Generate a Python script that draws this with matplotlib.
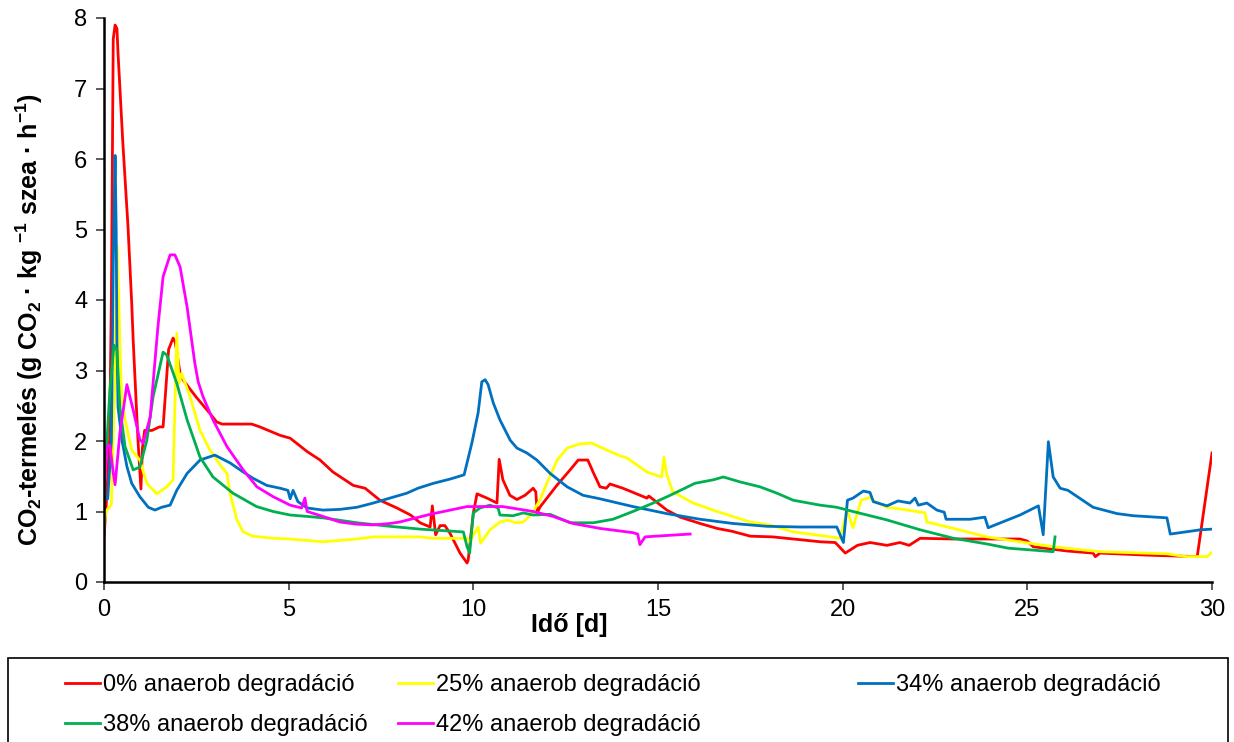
import matplotlib
matplotlib.use("Agg")
import matplotlib.pyplot as plt
from matplotlib.patches import Rectangle

plt.rcParams['font.family'] = ['Liberation Sans', 'DejaVu Sans']
plt.rcParams['mathtext.fontset'] = 'custom'
plt.rcParams['mathtext.bf'] = 'Liberation Sans:bold'
plt.rcParams['mathtext.rm'] = 'Liberation Sans'

# CO2-termelés görbék (idő [d], g CO2 / kg szea / h)
t_0 = [0, 0.05, 0.1, 0.15, 0.2, 0.25, 0.3, 0.35, 0.38, 0.51, 0.65, 0.75, 0.79, 0.92, 1.0,
       1.04, 1.1, 1.3, 1.5, 1.6, 1.75, 1.87, 1.93, 2.06, 2.15, 2.5, 2.87, 3.05, 3.2, 3.68,
       4.0, 4.22, 4.77, 5.04, 5.5, 5.85, 6.2, 6.75, 7.07, 7.47, 7.93, 8.3, 8.56, 8.83, 8.89,
       8.98, 9.1, 9.23, 9.37, 9.64, 9.83, 9.86, 10.0, 10.1, 10.37, 10.64, 10.7, 10.8, 10.99,
       11.18, 11.4, 11.62, 11.69, 11.73, 11.8, 12.26, 12.62, 12.84, 13.1, 13.25, 13.43, 13.6,
       13.7, 14.05, 14.7, 14.75, 15.24, 15.6, 16.14, 16.6, 17.0, 17.5, 18.1, 18.85, 19.4,
       19.8, 20.07, 20.4, 20.74, 21.2, 21.55, 21.8, 22.1, 23.0, 23.9, 24.8, 25.0, 25.16,
       26.07, 26.78, 26.84, 26.97, 28.3, 29.6, 30.0]
co2_0 = [0.65, 1.0, 1.5, 2.0, 4.0, 7.7, 7.9, 7.85, 7.5, 6.23, 5.04, 3.96, 3.43, 2.01, 1.32,
         1.9, 2.15, 2.15, 2.2, 2.2, 3.3, 3.46, 3.4, 2.96, 2.86, 2.62, 2.39, 2.27, 2.24, 2.24,
         2.24, 2.2, 2.08, 2.04, 1.85, 1.73, 1.56, 1.37, 1.33, 1.16, 1.05, 0.95, 0.84, 0.78, 1.08,
         0.67, 0.8, 0.8, 0.69, 0.41, 0.27, 0.31, 0.98, 1.25, 1.19, 1.12, 1.74, 1.45, 1.23,
         1.17, 1.23, 1.33, 1.28, 0.98, 1.06, 1.37, 1.59, 1.73, 1.73, 1.55, 1.35, 1.33,
         1.39, 1.33, 1.19, 1.22, 1.02, 0.92, 0.83, 0.76, 0.72, 0.65, 0.64, 0.6, 0.57,
         0.56, 0.41, 0.52, 0.56, 0.52, 0.56, 0.52, 0.62, 0.61, 0.61, 0.61, 0.58, 0.5,
         0.44, 0.41, 0.36, 0.41, 0.38, 0.36, 1.83]

t_25 = [0, 0.05, 0.2, 0.3, 0.35, 0.4, 0.45, 0.49, 0.57, 0.75, 0.97, 1.16, 1.43, 1.7, 1.87,
        1.97, 2.03, 2.1, 2.33, 2.6, 2.87, 3.19, 3.33, 3.41, 3.6, 3.77, 4.03, 4.58, 5.04, 5.93,
        6.85, 7.29, 8.56, 8.92, 9.83, 9.9, 10.13, 10.2, 10.45, 10.72, 10.94, 11.13, 11.35,
        11.59, 11.8, 12.03, 12.27, 12.54, 12.89, 13.2, 13.62, 13.97, 14.16, 14.7, 15.1, 15.16,
        15.24, 15.4, 15.95, 16.6, 17.5, 18.03, 18.66, 19.39, 19.93, 20.12, 20.28, 20.5,
        20.74, 20.88, 21.2, 21.64, 22.23, 22.28, 23.0, 23.9, 24.8, 25.7, 26.97, 28.78, 29.3,
        29.87, 30.0]
co2_25 = [0.75, 1.0, 1.1, 3.0, 4.78, 4.0, 3.0, 2.58, 2.3, 1.87, 1.73, 1.4, 1.25, 1.35, 1.45,
          3.53, 2.82, 2.96, 2.63, 2.15, 1.87, 1.63, 1.54, 1.26, 0.88, 0.71, 0.65, 0.62, 0.61, 0.57,
          0.61, 0.64, 0.64, 0.62, 0.62, 0.57, 0.78, 0.55, 0.74, 0.85, 0.88, 0.84, 0.85,
          0.97, 1.16, 1.45, 1.73, 1.9, 1.96, 1.97, 1.87, 1.79, 1.76, 1.56, 1.49, 1.77,
          1.52, 1.28, 1.12, 1.0, 0.85, 0.81, 0.71, 0.66, 0.62, 1.02, 0.77, 1.16,
          1.2, 1.14, 1.06, 1.03, 0.98, 0.85, 0.76, 0.64, 0.57, 0.5, 0.43, 0.4, 0.36,
          0.36, 0.42]

t_34 = [0, 0.1, 0.2, 0.25, 0.3, 0.33, 0.35, 0.38, 0.49, 0.62, 0.75, 0.97, 1.2, 1.38, 1.56,
        1.79, 1.97, 2.25, 2.6, 3.0, 3.41, 3.77, 4.04, 4.41, 4.77, 4.98, 5.04, 5.12, 5.25, 5.5,
        5.93, 6.39, 6.85, 7.29, 7.74, 8.2, 8.5, 8.92, 9.37, 9.75, 9.96, 10.13, 10.23, 10.32,
        10.4, 10.54, 10.72, 11.0, 11.18, 11.45, 11.72, 12.08, 12.54, 12.97, 13.43, 14.32,
        15.24, 16.14, 17.03, 17.95, 18.85, 19.84, 20.02, 20.13, 20.28, 20.56, 20.74, 20.83,
        21.2, 21.5, 21.82, 21.96, 22.05, 22.28, 22.55, 22.75, 22.8, 23.45, 23.85, 23.94,
        24.8, 25.3, 25.43, 25.57, 25.7, 25.89, 26.1, 26.78, 27.43, 27.87, 28.78, 28.87,
        29.68, 30.0]
co2_34 = [1.2, 1.18, 2.0, 4.5, 6.05, 5.0, 3.43, 2.48, 2.0, 1.64, 1.4, 1.21, 1.06, 1.02, 1.06,
          1.09, 1.3, 1.54, 1.73, 1.8, 1.69, 1.56, 1.47, 1.37, 1.33, 1.3, 1.18, 1.3, 1.14, 1.05,
          1.02, 1.03, 1.06, 1.12, 1.19, 1.26, 1.33, 1.4, 1.46, 1.52, 1.97, 2.4, 2.84, 2.87,
          2.8, 2.54, 2.3, 2.01, 1.9, 1.83, 1.73, 1.54, 1.35, 1.23, 1.18, 1.07,
          0.97, 0.89, 0.83, 0.79, 0.78, 0.78, 0.56, 1.16, 1.19, 1.29, 1.27, 1.14,
          1.08, 1.15, 1.12, 1.19, 1.09, 1.12, 1.02, 0.99, 0.89, 0.89, 0.92, 0.77,
          0.95, 1.08, 0.67, 1.99, 1.49, 1.33, 1.3, 1.06, 0.97, 0.94, 0.91, 0.68,
          0.74, 0.75]

t_38 = [0, 0.08, 0.16, 0.27, 0.35, 0.43, 0.57, 0.79, 0.97, 1.16, 1.33, 1.6, 1.7, 1.97, 2.25,
        2.6, 2.95, 3.49, 4.13, 4.58, 5.04, 5.5, 5.93, 6.85, 7.74, 8.56, 9.73, 9.83, 9.9, 10.0,
        10.18, 10.45, 10.67, 10.72, 11.08, 11.35, 11.62, 12.08, 12.62, 13.25, 13.78, 14.32,
        14.87, 15.33, 16.0, 16.5, 16.77, 17.22, 17.76, 18.22, 18.66, 19.39, 19.84, 20.28,
        21.2, 22.1, 23.0, 23.9, 24.48, 25.7, 25.75]
co2_38 = [1.25, 2.0, 2.72, 3.36, 3.29, 2.48, 1.92, 1.59, 1.63, 2.01, 2.63, 3.26, 3.22, 2.82, 2.3,
          1.77, 1.49, 1.26, 1.07, 1.0, 0.95, 0.93, 0.91, 0.84, 0.79, 0.75, 0.71, 0.5, 0.41, 0.98,
          1.05, 1.09, 1.05, 0.95, 0.94, 0.98, 0.95, 0.96, 0.84, 0.84, 0.89, 1.0,
          1.12, 1.23, 1.4, 1.45, 1.49, 1.42, 1.35, 1.26, 1.16, 1.09, 1.06, 1.0,
          0.88, 0.74, 0.62, 0.54, 0.48, 0.43, 0.64]

t_42 = [0, 0.08, 0.16, 0.25, 0.3, 0.43, 0.62, 0.79, 0.97, 1.06, 1.25, 1.46, 1.6, 1.79, 1.92,
        2.06, 2.25, 2.46, 2.55, 2.68, 2.95, 3.33, 3.77, 4.14, 4.58, 5.04, 5.35, 5.44, 5.5,
        5.93, 6.39, 6.85, 7.29, 7.74, 8.0, 8.83, 9.83, 10.8, 11.62, 12.16, 12.7, 13.43,
        14.32, 14.45, 14.51, 14.65, 15.24, 15.87]
co2_42 = [1.26, 1.92, 1.94, 1.55, 1.38, 2.11, 2.8, 2.44, 2.02, 1.97, 2.34, 3.62, 4.33, 4.64, 4.64,
          4.47, 3.9, 3.1, 2.84, 2.63, 2.3, 1.92, 1.59, 1.35, 1.21, 1.09, 1.05, 1.19, 1.0,
          0.93, 0.85, 0.82, 0.81, 0.83, 0.85, 0.96, 1.07, 1.07, 1.0, 0.93, 0.83, 0.76,
          0.7, 0.68, 0.53, 0.64, 0.66, 0.68]

labels = ['0% anaerob degradáció', '25% anaerob degradáció', '34% anaerob degradáció',
          '38% anaerob degradáció', '42% anaerob degradáció']
colors = ['#FF0000', '#FFFF00', '#0070C0', '#00B050', '#FF00FF']

fig = plt.figure(figsize=(12.34, 7.42), dpi=100)
ax = fig.add_axes([104 / 1234, 1 - 582 / 742, 1108 / 1234, 564 / 742])

series = [(t_0, co2_0), (t_25, co2_25), (t_34, co2_34), (t_38, co2_38), (t_42, co2_42)]
lines = []
for (t, v), c, lab in zip(series, colors, labels):
    ln, = ax.plot(t, v, color=c, lw=2, label=lab)
    lines.append(ln)

ax.set_xlim(0, 30)
ax.set_ylim(0, 8)
ax.set_xticks(range(0, 31, 5))
ax.set_yticks(range(0, 9))
for s in ['top', 'right']:
    ax.spines[s].set_visible(False)
for s in ['left', 'bottom']:
    ax.spines[s].set_linewidth(1.8)
ax.tick_params(axis='both', direction='out', length=6, width=1.2, color='#404040',
               labelsize=17, pad=6)

ax.set_xlabel('Idő [d]', fontsize=18, fontweight='bold')
ax.xaxis.set_label_coords(0.42, -0.055)
ax.set_ylabel(r'CO$_\mathbf{2}$-termelés (g CO$_\mathbf{2}$ · kg $^\mathbf{-1}$ szea · h$^\mathbf{-1}$)',
              fontsize=18, fontweight='bold')
ax.yaxis.set_label_coords(-0.053, 0.465)

# jelmagyarázat: három oszlop, közös keret
cols = [([lines[0], lines[3]], 65), ([lines[1], lines[4]], 398), ([lines[2]], 858)]
for hs, xpx in cols:
    fig.legend(handles=hs, labels=[h.get_label() for h in hs], loc='upper left',
               bbox_to_anchor=(xpx / 1234, 1 - 674 / 742), frameon=False, fontsize=17,
               handlelength=1.5, handletextpad=0.1, labelspacing=0.78,
               borderpad=0, borderaxespad=0)
fig.patches.append(Rectangle((8 / 1234, -0.01), 1220 / 1234, (742 - 658) / 742 + 0.01,
                             transform=fig.transFigure, fill=False, edgecolor='black', lw=1.2))

fig.savefig('out.png', dpi=100)
